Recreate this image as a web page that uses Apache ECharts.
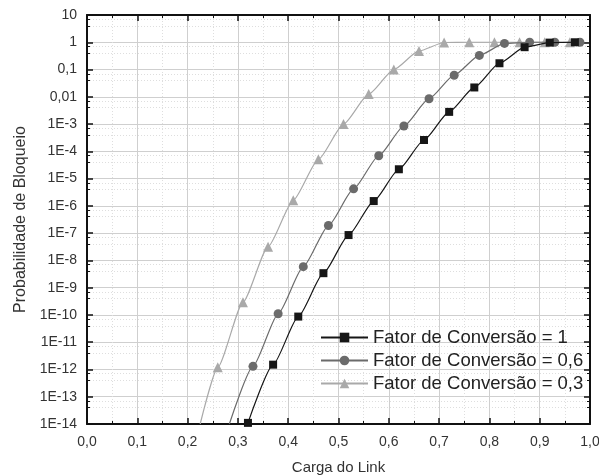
<!DOCTYPE html>
<html>
<head>
<meta charset="utf-8">
<script src="https://cdn.jsdelivr.net/npm/echarts@6/dist/echarts.min.js"></script>
<style>
  html, body { margin: 0; padding: 0; background: #fff; }
  #chart { width: 599px; height: 476px; }
</style>
</head>
<body>
<div id="chart"></div>
<script>
// Fator de Conversão = 1
const cargaF1 = [0.32, 0.37, 0.42, 0.47, 0.52, 0.57, 0.62, 0.67, 0.72, 0.77, 0.82, 0.87, 0.92, 0.97]
const bloqF1 = [1.1e-14, 1.5e-12, 8.7e-11, 3.4e-9, 8.5e-8, 1.5e-6, 2.2e-5, 2.6e-4, 2.8e-3, 0.022, 0.17, 0.66, 0.97, 1]

// Fator de Conversão = 0,6
const cargaF06 = [0.33, 0.38, 0.43, 0.48, 0.53, 0.58, 0.63, 0.68, 0.73, 0.78, 0.83, 0.88, 0.93, 0.98]
const bloqF06 = [1.3e-12, 1.1e-10, 5.9e-9, 1.9e-7, 4.2e-6, 6.9e-5, 8.5e-4, 8.5e-3, 0.062, 0.33, 0.91, 1, 1, 1]
const tailF06 = [0.283, 1e-14]

// Fator de Conversão = 0,3
const cargaF03 = [0.26, 0.31, 0.36, 0.41, 0.46, 0.51, 0.56, 0.61, 0.66, 0.71, 0.76, 0.81, 0.86, 0.91, 0.96]
const bloqF03 = [1.2e-12, 2.9e-10, 3.2e-8, 1.6e-6, 5.1e-5, 1e-3, 0.0126, 0.1, 0.48, 0.98, 1, 1, 1, 1, 1]
const tailF03 = [0.225, 1e-14]

const names = ['Fator de Conversão = 1', 'Fator de Conversão = 0,6', 'Fator de Conversão = 0,3']
const colors = ['#161616', '#6b6b6b', '#a9a9a9']

function pairs(xs, ys, tail) {
  const out = []
  if (tail) out.push({ value: tail, symbol: 'none' })
  xs.forEach((x, i) => out.push([x, ys[i]]))
  return out
}

function yLabel(v) {
  const e = Math.round(Math.log10(v))
  if (e === 1) return '10'
  if (e === 0) return '1'
  if (e === -1) return '0,1'
  if (e === -2) return '0,01'
  return '1E' + e
}

const font = 'Liberation Sans, Arial, sans-serif'

const xBase = {
  type: 'value',
  min: 0,
  max: 1,
  interval: 0.1,
  axisLine: { show: true, onZero: false, lineStyle: { color: '#111', width: 2 } },
  axisTick: { show: true, inside: true, length: 6, lineStyle: { color: '#111', width: 1.5 } },
  minorTick: { show: true, splitNumber: 2, length: 3, lineStyle: { color: '#111' } },
  splitLine: { show: true, lineStyle: { color: '#cfcfcf', width: 1 } },
  minorSplitLine: { show: true, lineStyle: { color: '#dedede', type: [1, 2], width: 1 } }
}

const yBase = {
  type: 'log',
  logBase: 10,
  min: 1e-14,
  max: 10,
  interval: 1,
  axisLine: { show: true, onZero: false, lineStyle: { color: '#111', width: 2 } },
  axisTick: { show: true, inside: true, length: 6, lineStyle: { color: '#111', width: 1.5 } },
  minorTick: { show: true, splitNumber: 3, length: 3, lineStyle: { color: '#111' } },
  splitLine: { show: true, lineStyle: { color: '#cfcfcf', width: 1 } },
  minorSplitLine: { show: true, lineStyle: { color: '#dedede', type: [1, 2], width: 1 } }
}

const option = {
  animation: false,
  backgroundColor: '#fff',
  textStyle: { fontFamily: font },
  grid: { left: 87, right: 9, top: 15, bottom: 52, outerBoundsMode: 'none' },
  legend: {
    orient: 'vertical',
    left: 320,
    top: 328,
    itemWidth: 47,
    itemHeight: 12,
    itemGap: 4,
    padding: 0,
    textStyle: { fontFamily: font, fontSize: 18.5, color: '#222' },
    data: names
  },
  xAxis: [
    Object.assign({}, xBase, {
      position: 'bottom',
      name: 'Carga do Link',
      nameLocation: 'middle',
      nameGap: 36,
      nameTextStyle: { fontFamily: font, fontSize: 15, color: '#333' },
      axisLabel: {
        margin: 11,
        fontFamily: font,
        fontSize: 14,
        color: '#333',
        formatter: v => v.toFixed(1).replace('.', ',')
      }
    }),
    Object.assign({}, xBase, {
      position: 'top',
      axisLabel: { show: false },
      splitLine: { show: false },
      minorSplitLine: { show: false }
    })
  ],
  yAxis: [
    Object.assign({}, yBase, {
      position: 'left',
      name: 'Probabilidade de Bloqueio',
      nameLocation: 'middle',
      nameGap: 55,
      nameTextStyle: { fontFamily: font, fontSize: 16, color: '#333' },
      axisLabel: { margin: 10, fontFamily: font, fontSize: 14, color: '#333', formatter: yLabel }
    }),
    Object.assign({}, yBase, {
      position: 'right',
      axisLabel: { show: false },
      splitLine: { show: false },
      minorSplitLine: { show: false }
    })
  ],
  series: [
    {
      name: names[0],
      type: 'line',
      data: pairs(cargaF1, bloqF1),
      symbol: 'rect',
      symbolSize: 8,
      smooth: 0.2,
      smoothMonotone: 'x',
      color: colors[0],
      itemStyle: { color: colors[0] },
      lineStyle: { color: colors[0], width: 1.2 },
      z: 5
    },
    {
      name: names[1],
      type: 'line',
      data: pairs(cargaF06, bloqF06, tailF06),
      symbol: 'circle',
      symbolSize: 9,
      smooth: 0.2,
      smoothMonotone: 'x',
      color: colors[1],
      itemStyle: { color: colors[1] },
      lineStyle: { color: colors[1], width: 1.2 },
      z: 4
    },
    {
      name: names[2],
      type: 'line',
      data: pairs(cargaF03, bloqF03, tailF03),
      symbol: 'triangle',
      symbolSize: 10,
      smooth: 0.2,
      smoothMonotone: 'x',
      color: colors[2],
      itemStyle: { color: colors[2] },
      lineStyle: { color: colors[2], width: 1.2 },
      z: 3
    }
  ]
}

const chart = echarts.init(document.getElementById('chart'), null, { renderer: 'canvas' })
chart.setOption(option)
</script>
</body>
</html>
